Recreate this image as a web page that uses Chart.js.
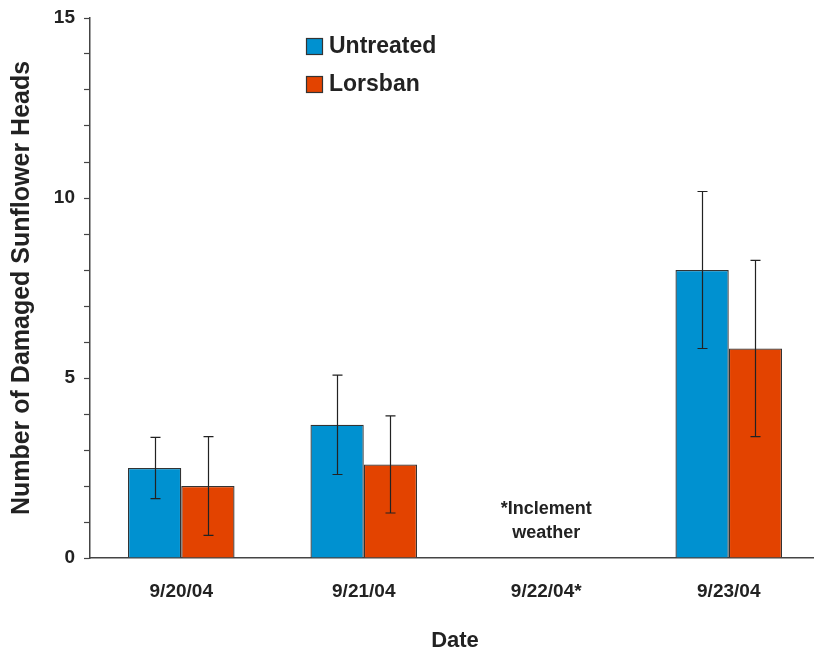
<!DOCTYPE html>
<html>
<head>
<meta charset="utf-8">
<script src="https://cdn.jsdelivr.net/npm/chart.js@4/dist/chart.umd.min.js"></script>
<style>
  html, body { margin: 0; padding: 0; background: #fff; overflow: hidden; width: 814px; height: 654px; }
  canvas { display: block; }
</style>
</head>
<body>
<canvas id="c" width="822" height="654"></canvas>
<script>
// ---- data ----
const categories = ['9/20/04', '9/21/04', '9/22/04*', '9/23/04'];
const untreated = [2.5, 3.7, null, 8.0];
const untreatedErr = [0.85, 1.38, null, 2.18];
const lorsban = [2.0, 2.6, null, 5.82];
const lorsbanErr = [1.37, 1.35, null, 2.45];
const yTicks = [0, 5, 10, 15];
const noteLines = ['*Inclement', 'weather'];
const noteCategory = 2;

const FONT = "'Liberation Sans', Arial, Helvetica, sans-serif";
const TXT = '#222';
const BLUE = '#0091D0';
const ORANGE = '#E34300';

const errorBars = {
  id: 'errorBars',
  afterDatasetsDraw(chart) {
    const ctx = chart.ctx;
    const y = chart.scales.y;
    const errs = [untreatedErr, lorsbanErr];
    ctx.save();
    ctx.strokeStyle = '#222';
    ctx.lineWidth = 1.2;
    chart.data.datasets.forEach((ds, di) => {
      const meta = chart.getDatasetMeta(di);
      meta.data.forEach((bar, i) => {
        const v = ds.data[i];
        const e = errs[di][i];
        if (v == null || e == null) return;
        const x = Math.round(bar.x) + 0.5;
        const yt = y.getPixelForValue(v + e);
        const yb = y.getPixelForValue(v - e);
        ctx.beginPath();
        ctx.moveTo(x, yt); ctx.lineTo(x, yb);
        ctx.moveTo(x - 5, yt); ctx.lineTo(x + 5, yt);
        ctx.moveTo(x - 5, yb); ctx.lineTo(x + 5, yb);
        ctx.stroke();
      });
    });
    ctx.restore();
  }
};

const extras = {
  id: 'extras',
  afterDraw(chart) {
    const ctx = chart.ctx;
    const xs = chart.scales.x;
    const ys = chart.scales.y;
    ctx.save();
    // note text
    ctx.fillStyle = TXT;
    ctx.font = 'bold 18px ' + FONT;
    ctx.textAlign = 'center';
    ctx.textBaseline = 'middle';
    const nx = xs.getPixelForValue(noteCategory);
    ctx.fillText(noteLines[0], nx, ys.getPixelForValue(1.36));
    ctx.fillText(noteLines[1], nx, ys.getPixelForValue(0.69));
    // legend
    const items = chart.data.datasets;
    ctx.font = 'bold 23px ' + FONT;
    ctx.textAlign = 'left';
    items.forEach((ds, i) => {
      const bx = 306, by = 38 + i * 38;
      ctx.fillStyle = ds.backgroundColor;
      ctx.fillRect(bx, by, 16, 16);
      ctx.strokeStyle = '#333';
      ctx.lineWidth = 1.2;
      ctx.strokeRect(bx + 0.5, by + 0.5, 16, 16);
      ctx.fillStyle = TXT;
      ctx.fillText(ds.label, 329, by + 9);
    });
    ctx.restore();
  }
};

new Chart(document.getElementById('c'), {
  type: 'bar',
  data: {
    labels: categories,
    datasets: [
      { label: 'Untreated', data: untreated, backgroundColor: BLUE, borderColor: '#333', borderWidth: 1.3, categoryPercentage: 0.584, barPercentage: 1.0 },
      { label: 'Lorsban', data: lorsban, backgroundColor: ORANGE, borderColor: '#333', borderWidth: 1.3, categoryPercentage: 0.584, barPercentage: 1.0 }
    ]
  },
  options: {
    responsive: false,
    animation: false,
    devicePixelRatio: 1,
    layout: { padding: { top: 18, right: 2, left: 0, bottom: 0 } },
    plugins: { legend: { display: false }, tooltip: { enabled: false } },
    scales: {
      x: {
        grid: { display: false, drawTicks: false },
        border: { display: true, color: '#444', width: 1.5 },
        ticks: { color: TXT, font: { family: FONT, size: 19, weight: 'bold' }, padding: 22, maxRotation: 0, autoSkip: false },
        title: { display: true, text: 'Date', color: TXT, font: { family: FONT, size: 22, weight: 'bold' }, padding: { top: 0, bottom: 0 } },
        afterFit(s) { s.height = 96; s.paddingLeft = 0; s.paddingRight = 0; }
      },
      y: {
        min: 0, max: 15,
        grid: { display: true, drawOnChartArea: false, drawTicks: true, tickLength: 6, color: '#444', tickWidth: 1.2 },
        border: { display: true, color: '#444', width: 1.5 },
        ticks: {
          stepSize: 1, autoSkip: false, padding: 9, color: TXT,
          font: { family: FONT, size: 19, weight: 'bold' },
          callback: (v) => yTicks.includes(v) ? String(v) : ''
        },
        title: { display: true, text: 'Number of Damaged Sunflower Heads', color: TXT, font: { family: FONT, size: 25, weight: 'bold' }, padding: { top: 7, bottom: 0 } },
        afterFit(s) { s.width = 90; s.paddingTop = 0; s.paddingBottom = 0; }
      }
    }
  },
  plugins: [errorBars, extras]
});
</script>
</body>
</html>
